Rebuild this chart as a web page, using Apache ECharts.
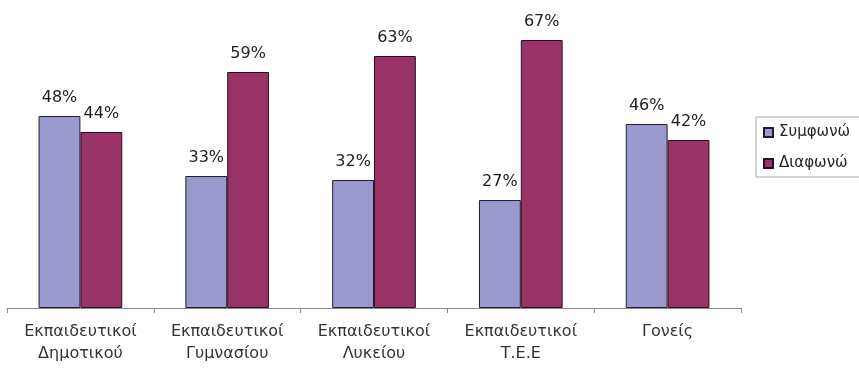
<!DOCTYPE html>
<html>
<head>
<meta charset="utf-8">
<script src="https://cdn.jsdelivr.net/npm/echarts@6/dist/echarts.min.js"></script>
<style>
  html, body { margin: 0; padding: 0; background: #fff; }
  #chart { width: 859px; height: 369px; }
</style>
</head>
<body>
<div id="chart"></div>
<script>
// Survey answers per respondent group (percent)
const categories = [
  'Εκπαιδευτικοί\nΔημοτικού',
  'Εκπαιδευτικοί\nΓυμνασίου',
  'Εκπαιδευτικοί\nΛυκείου',
  'Εκπαιδευτικοί\nΤ.Ε.Ε',
  'Γονείς'
];
const agree = [48, 33, 32, 27, 46];
const disagree = [44, 59, 63, 67, 42];
const seriesNames = ['Συμφωνώ', 'Διαφωνώ'];

const FONT = 'DejaVu Sans, Liberation Sans, Arial, sans-serif';

const chart = echarts.init(document.getElementById('chart'), null, { renderer: 'canvas' });

const labelStyle = {
  show: true,
  position: 'top',
  distance: 10,
  formatter: '{c}%',
  fontFamily: FONT,
  fontSize: 16,
  color: '#222'
};

chart.setOption({
  animation: false,
  grid: { left: 7, right: 118, top: 8, bottom: 61, containLabel: false },
  legend: {
    orient: 'vertical',
    left: 756,
    top: 117,
    padding: [8, 40, 6, 7],
    itemGap: 16,
    itemWidth: 9,
    itemHeight: 9,
    borderColor: '#aaa',
    borderWidth: 1,
    icon: 'rect',
    textStyle: { fontFamily: FONT, fontSize: 15, color: '#222', padding: [0, 0, 0, 1] },
    data: seriesNames
  },
  xAxis: {
    type: 'category',
    data: categories,
    boundaryGap: true,
    axisLine: { lineStyle: { color: '#8a8a8a', width: 1 } },
    axisTick: { show: true, length: 5, inside: false, lineStyle: { color: '#8a8a8a' } },
    axisLabel: {
      margin: 13,
      fontFamily: FONT,
      fontSize: 16,
      lineHeight: 22,
      color: '#333',
      interval: 0
    }
  },
  yAxis: {
    type: 'value',
    min: 0,
    max: 75,
    show: false,
    splitLine: { show: false }
  },
  series: [
    {
      name: seriesNames[0],
      type: 'bar',
      data: agree,
      barGap: '0%',
      barCategoryGap: '43%',
      itemStyle: { color: '#9999cc', borderColor: '#1e1e2e', borderWidth: 1 },
      label: labelStyle
    },
    {
      name: seriesNames[1],
      type: 'bar',
      data: disagree,
      barGap: '0%',
      barCategoryGap: '43%',
      itemStyle: { color: '#993366', borderColor: '#2a1020', borderWidth: 1 },
      label: labelStyle
    }
  ]
});
</script>
</body>
</html>
